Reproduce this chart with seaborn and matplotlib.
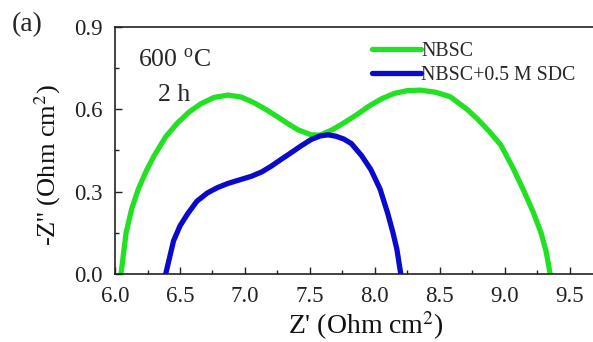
import pandas as pd
import matplotlib.pyplot as plt
import seaborn as sns
from matplotlib.ticker import MultipleLocator

# -------------------------
# data
# -------------------------
nbsc_x = [6.046, 6.085, 6.13, 6.18, 6.24, 6.30, 6.39, 6.48, 6.57, 6.66, 6.76, 6.87,
          6.97, 7.07, 7.16, 7.25, 7.33, 7.41, 7.51, 7.58, 7.67, 7.76, 7.86, 7.95,
          8.05, 8.15, 8.25, 8.35, 8.47, 8.58, 8.71, 8.79, 8.88, 8.97, 9.06, 9.15,
          9.22, 9.28, 9.32, 9.35]
nbsc_y = [0.0, 0.15, 0.24, 0.31, 0.375, 0.43, 0.50, 0.55, 0.59, 0.62, 0.643, 0.652,
          0.645, 0.624, 0.60, 0.573, 0.548, 0.525, 0.507, 0.506, 0.525, 0.55, 0.58, 0.61,
          0.638, 0.658, 0.668, 0.67, 0.662, 0.646, 0.60, 0.565, 0.52, 0.47, 0.39, 0.30,
          0.225, 0.15, 0.08, 0.0]

sdc_x = [6.39, 6.42, 6.45, 6.50, 6.56, 6.63, 6.71, 6.79, 6.87, 6.96, 7.05, 7.13,
         7.20, 7.28, 7.35, 7.43, 7.51, 7.58, 7.64, 7.70, 7.76, 7.82, 7.90, 7.97,
         8.04, 8.10, 8.14, 8.17, 8.20]
sdc_y = [0.0, 0.06, 0.12, 0.175, 0.22, 0.265, 0.295, 0.315, 0.33, 0.343, 0.356, 0.372,
         0.392, 0.418, 0.44, 0.466, 0.49, 0.503, 0.507, 0.502, 0.492, 0.475, 0.43, 0.38,
         0.31, 0.22, 0.15, 0.09, 0.0]

labels = ["NBSC", "NBSC+0.5 M SDC"]
colors = ["#22E022", "#0A0ACC"]

df = pd.concat([
    pd.DataFrame({"x": nbsc_x, "y": nbsc_y, "sample": labels[0]}),
    pd.DataFrame({"x": sdc_x, "y": sdc_y, "sample": labels[1]}),
], ignore_index=True)

# -------------------------
# style
# -------------------------
sns.set_theme(style="ticks")
plt.rcParams['font.family'] = ['Liberation Serif', 'DejaVu Serif']
plt.rcParams['mathtext.fontset'] = 'stix'

fig = plt.figure(figsize=(5.93, 3.42), dpi=100)
ax = fig.add_axes([0.194, 0.199, 0.806, 0.722])

sns.lineplot(data=df, x="x", y="y", hue="sample", palette=colors, sort=False,
             estimator=None, linewidth=3.8, ax=ax)

ax.set_xlim(6.0, 9.68)
ax.set_ylim(0.0, 0.9)
ax.xaxis.set_major_locator(MultipleLocator(0.5))
ax.xaxis.set_minor_locator(MultipleLocator(0.25))
ax.yaxis.set_major_locator(MultipleLocator(0.3))
ax.yaxis.set_minor_locator(MultipleLocator(0.15))
ax.xaxis.set_major_formatter(plt.FormatStrFormatter('%.1f'))
ax.yaxis.set_major_formatter(plt.FormatStrFormatter('%.1f'))
ax.tick_params(which='both', direction='in', colors='#222222', labelsize=16.5,
               width=1.0, top=False, right=False)
ax.tick_params(axis='x', which='major', length=5, pad=9)
ax.tick_params(axis='y', which='major', length=5, pad=9)
ax.tick_params(which='minor', length=3)
ax.spines['right'].set_visible(False)
for s in ['left', 'bottom', 'top']:
    ax.spines[s].set_linewidth(1.2)
    ax.spines[s].set_color('#222222')

ax.set_xlabel("Z' (Ohm cm$^2$)", fontsize=20, color='#111111')
ax.set_ylabel("-Z'' (Ohm cm$^2$)", fontsize=19, color='#111111')
ax.xaxis.set_label_coords(0.525, -0.145)
ax.yaxis.set_label_coords(-0.109, 0.441)

ax.text(0.047, 0.836, "600 $^\\mathregular{o}$C", transform=ax.transAxes, fontsize=18.5)
ax.text(0.09, 0.70, "2 h", transform=ax.transAxes, fontsize=18.5)
fig.text(0.02, 0.91, "(a)", fontsize=20)

ax.legend(loc='upper left', bbox_to_anchor=(0.52, 0.97), frameon=False,
          fontsize=14.3, handlelength=2.5, handletextpad=0.0, labelspacing=0.25,
          borderaxespad=0)

fig.savefig("out.png", dpi=100, facecolor='white')
